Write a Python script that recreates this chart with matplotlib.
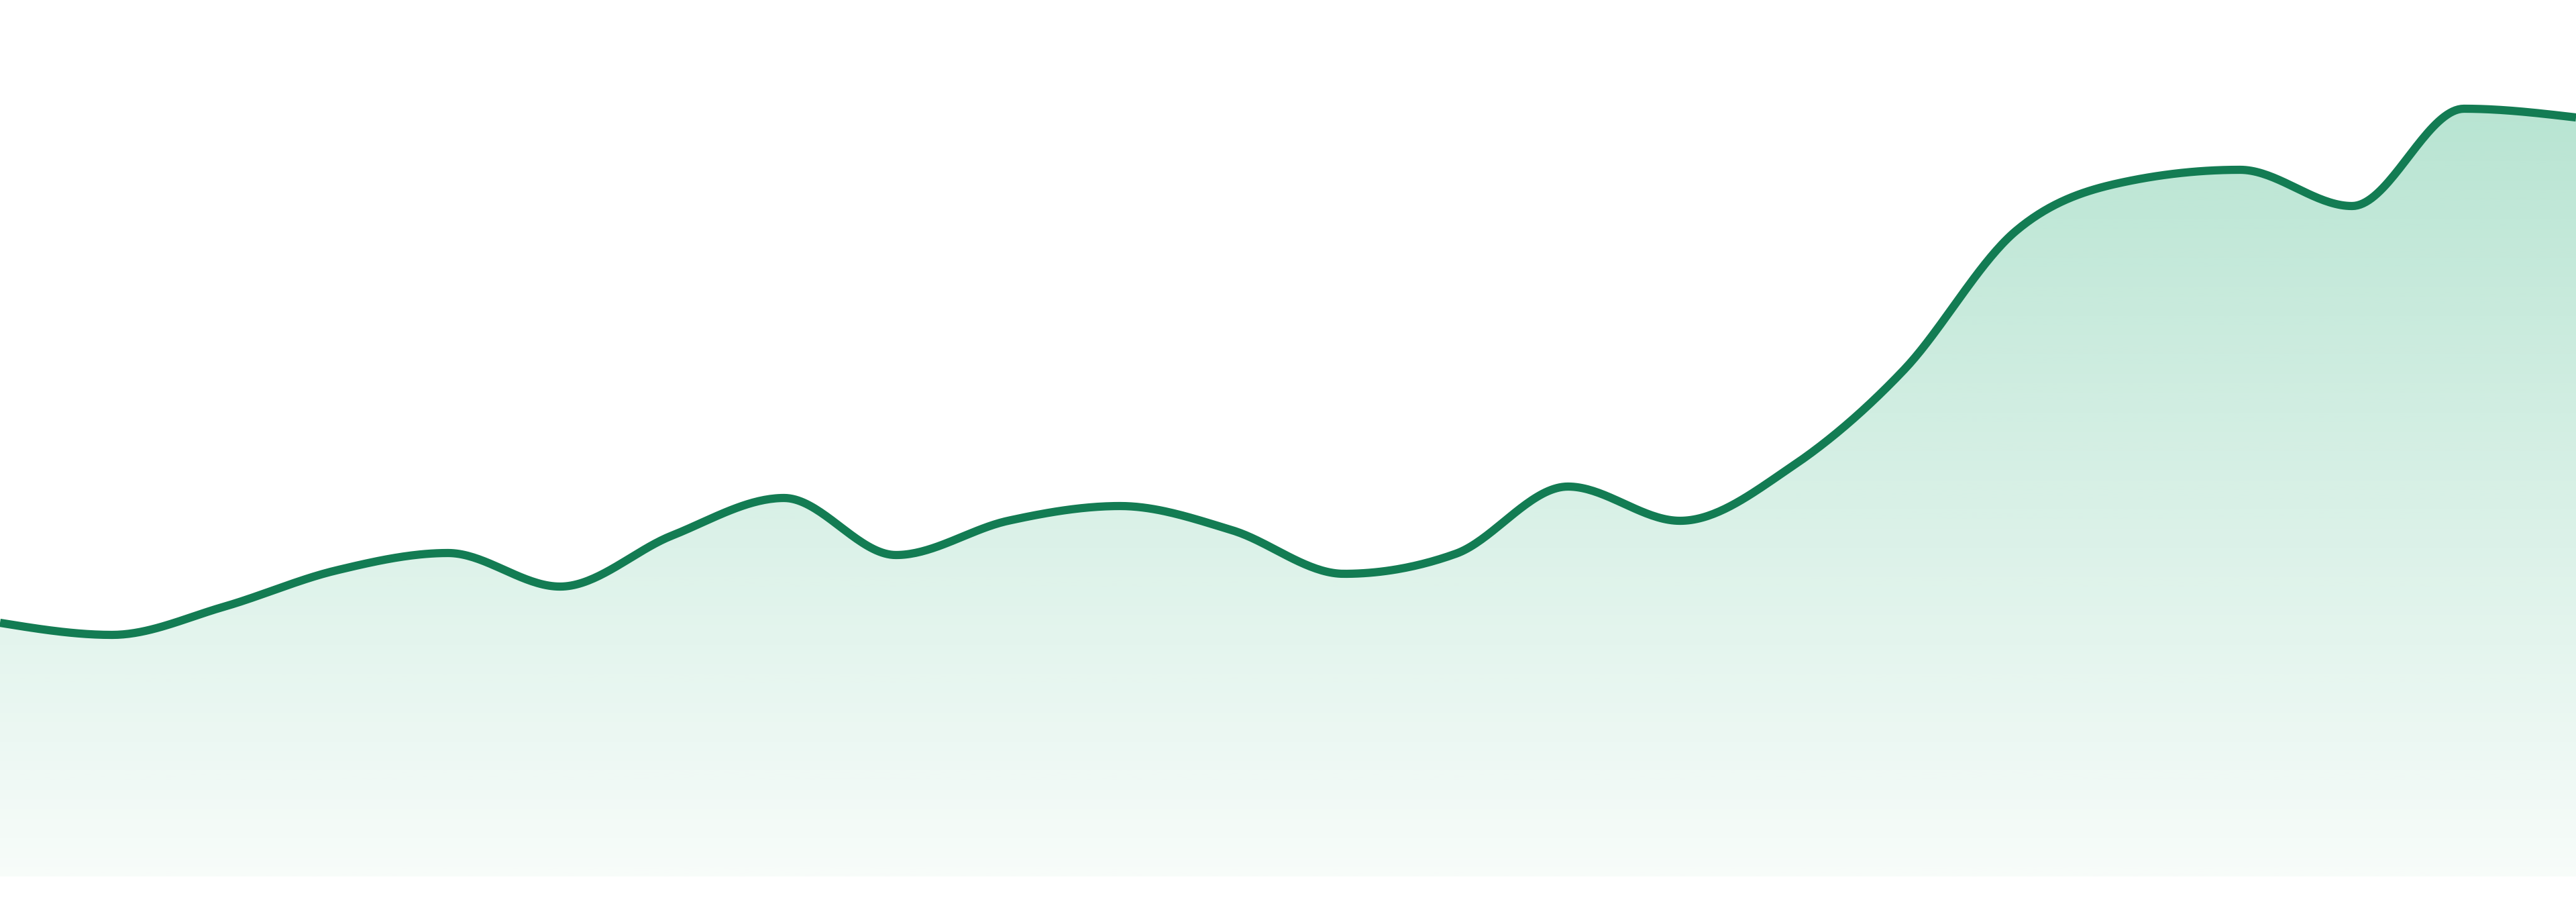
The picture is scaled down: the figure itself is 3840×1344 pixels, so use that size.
import numpy as np
import matplotlib
matplotlib.use('Agg')
import matplotlib.pyplot as plt
from matplotlib.patches import PathPatch
from matplotlib.path import Path

# series values (one point per period)
periods = list(range(24))
values = [37.8, 36.0, 40.2, 45.6, 48.2, 43.2, 50.8, 56.4, 47.9, 53.0, 55.2, 51.6,
          45.1, 48.1, 58.1, 53.0, 61.1, 75.5, 96.2, 103.6, 105.3, 99.9, 114.4, 113.1]

line_color = '#137c53'
fill_color = '#34b37f'


def monotone_x(x, y, n=40):
    """monotone cubic curve (like d3 curveMonotoneX), returns dense x, y"""
    x = np.asarray(x, float)
    y = np.asarray(y, float)
    h = np.diff(x)
    s = np.diff(y) / h
    t = np.zeros(len(x))
    for i in range(1, len(x) - 1):
        p = (s[i - 1] * h[i] + s[i] * h[i - 1]) / (h[i - 1] + h[i])
        t[i] = (np.sign(s[i - 1]) + np.sign(s[i])) * min(abs(s[i - 1]), abs(s[i]), 0.5 * abs(p))
    t[0] = (3 * s[0] - t[1]) / 2
    t[-1] = (3 * s[-1] - t[-2]) / 2
    xs, ys = [], []
    u = np.linspace(0, 1, n, endpoint=False)
    for i in range(len(x) - 1):
        x0, x1, y0, y1 = x[i], x[i + 1], y[i], y[i + 1]
        dx = (x1 - x0) / 3
        c = [y0, y0 + dx * t[i], y1 - dx * t[i + 1], y1]
        xs.append(x0 + u * (x1 - x0))
        ys.append((1 - u) ** 3 * c[0] + 3 * (1 - u) ** 2 * u * c[1] + 3 * (1 - u) * u ** 2 * c[2] + u ** 3 * c[3])
    xs.append([x[-1]])
    ys.append([y[-1]])
    return np.concatenate(xs), np.concatenate(ys)


xs, ys = monotone_x(periods, values)

fig = plt.figure(figsize=(38.4, 13.44), dpi=100)
ax = fig.add_axes([0, 0, 1, 1])
ax.set_xlim(periods[0], periods[-1])
ax.set_ylim(-3.8, 130.6)
ax.axis('off')

# gradient fill under the curve
top = max(values)
grad = np.zeros((256, 2, 4))
rgb = matplotlib.colors.to_rgb(fill_color)
grad[:, :, :3] = rgb
grad[:, :, 3] = np.linspace(0.35, 0.04, 256)[:, None]
im = ax.imshow(grad, extent=[periods[0], periods[-1], 0, top], origin='upper',
               aspect='auto', interpolation='bilinear', zorder=1)
verts = np.column_stack([np.r_[xs, xs[-1], xs[0]], np.r_[ys, 0, 0]])
clip = PathPatch(Path(verts), facecolor='none', edgecolor='none')
ax.add_patch(clip)
im.set_clip_path(clip)

ax.plot(xs, ys, color=line_color, lw=8.8, solid_capstyle='butt', zorder=3)

fig.savefig('out.png', dpi=100, facecolor='white')
